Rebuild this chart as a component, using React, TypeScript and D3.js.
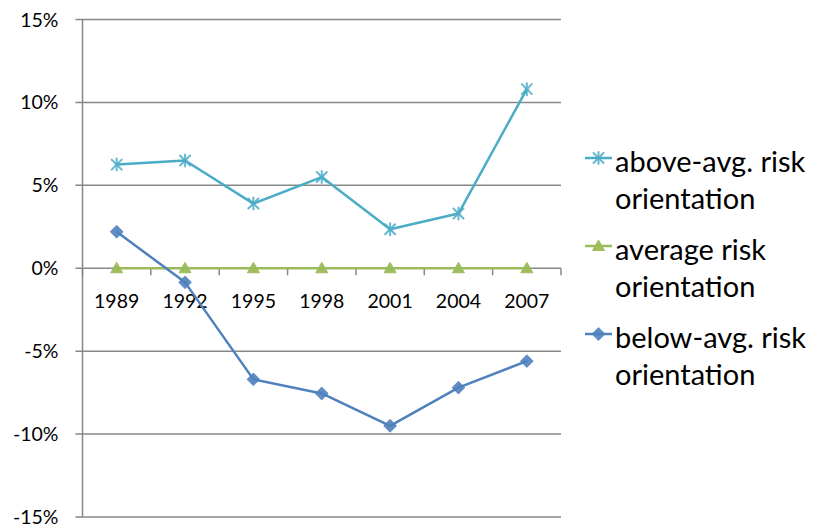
import React from "react";
import * as d3 from "d3";

// Survey years on the category axis
const years = ["1989", "1992", "1995", "1998", "2001", "2004", "2007"];

// Deviation from the average, in percent
const aboveAvg = [6.25, 6.5, 3.9, 5.5, 2.35, 3.3, 10.8];
const average = [0, 0, 0, 0, 0, 0, 0];
const belowAvg = [2.2, -0.85, -6.7, -7.55, -9.5, -7.2, -5.6];

const yTicks = [-15, -10, -5, 0, 5, 10, 15];

const seriesNames = [
  ["above-avg. risk", "orientation"],
  ["average risk", "orientation"],
  ["below-avg. risk", "orientation"],
];

const W = 818;
const H = 529;
const plot = { left: 82.5, right: 561, top: 19.5, bottom: 517 };
const FONT = "Lato, 'Open Sans', sans-serif";
const GRID = "#878787";

const colors = ["#4BACC6", "#9BBB59", "#4F81BD"];

type MarkerKind = "star" | "triangle" | "diamond";
const markerKinds: MarkerKind[] = ["star", "triangle", "diamond"];

function Marker({ kind, x, y, color }: { kind: MarkerKind; x: number; y: number; color: string }) {
  if (kind === "star") {
    const r = 5;
    return (
      <g stroke={color} strokeWidth={2} strokeLinecap="round" opacity={0.85}>
        <line x1={x - r} y1={y - r} x2={x + r} y2={y + r} />
        <line x1={x - r} y1={y + r} x2={x + r} y2={y - r} />
        <line x1={x} y1={y - r - 1} x2={x} y2={y + r + 1} />
        <circle cx={x} cy={y} r={2.5} fill={color} stroke="none" opacity={0.6} />
      </g>
    );
  }
  if (kind === "triangle") {
    const s = 6;
    return (
      <path
        d={`M${x},${y - s} L${x + s},${y + s * 0.75} L${x - s},${y + s * 0.75} Z`}
        fill={color}
        stroke={color}
        strokeWidth={1}
        strokeLinejoin="round"
        opacity={0.95}
      />
    );
  }
  const s = 6;
  return (
    <path
      d={`M${x},${y - s} L${x + s},${y} L${x},${y + s} L${x - s},${y} Z`}
      fill={color}
      stroke={color}
      strokeWidth={1.2}
      strokeLinejoin="round"
      opacity={0.9}
    />
  );
}

export default function App() {
  const x = d3
    .scaleBand<string>()
    .domain(years)
    .range([plot.left, plot.right]);
  const y = d3.scaleLinear().domain([-15, 15]).range([plot.bottom, plot.top]);

  const cx = (yr: string) => (x(yr) as number) + x.bandwidth() / 2;

  const series = [aboveAvg, average, belowAvg];
  const line = d3
    .line<number>()
    .x((_, i) => cx(years[i]))
    .y((v) => y(v));

  const legendX = 585;
  const legendTop = [158, 246, 334];

  return (
    <svg
      width={W}
      height={H}
      style={{ position: "absolute", left: 0, top: 0, background: "#fff" }}
      fontFamily={FONT}
    >
      {/* gridlines */}
      {yTicks.map((t) => (
        <line
          key={"g" + t}
          x1={plot.left - 7}
          x2={plot.right}
          y1={y(t)}
          y2={y(t)}
          stroke={GRID}
          strokeWidth={1.5}
        />
      ))}
      {/* value axis */}
      <line x1={plot.left} x2={plot.left} y1={plot.top} y2={plot.bottom} stroke={GRID} strokeWidth={1.5} />
      {yTicks.map((t) => (
        <text
          key={"yl" + t}
          x={plot.left - 24}
          y={y(t)}
          dy="0.36em"
          textAnchor="end"
          fontSize={19.5}
          fill="#000"
        >
          {t + "%"}
        </text>
      ))}
      {/* category axis ticks along zero line */}
      {years.map((yr) => (
        <line
          key={"ct" + yr}
          x1={(x(yr) as number) + x.bandwidth()}
          x2={(x(yr) as number) + x.bandwidth()}
          y1={y(0)}
          y2={y(0) + 7}
          stroke={GRID}
          strokeWidth={1.5}
        />
      ))}
      <line x1={plot.left} x2={plot.left} y1={y(0)} y2={y(0) + 7} stroke={GRID} strokeWidth={1.5} />
      {years.map((yr) => (
        <text key={"cl" + yr} x={cx(yr)} y={y(0) + 40} textAnchor="middle" fontSize={19.5} fill="#000">
          {yr}
        </text>
      ))}

      {/* series lines: draw average, then below, then above */}
      {[1, 2, 0].map((si) => (
        <g key={"s" + si}>
          <path d={line(series[si]) || ""} fill="none" stroke={colors[si]} strokeWidth={2.5} strokeLinejoin="round" />
          {series[si].map((v, i) => (
            <Marker key={i} kind={markerKinds[si]} x={cx(years[i])} y={y(v)} color={colors[si]} />
          ))}
        </g>
      ))}

      {/* legend */}
      {seriesNames.map((lines, si) => (
        <g key={"lg" + si}>
          <line x1={legendX} x2={legendX + 27} y1={legendTop[si]} y2={legendTop[si]} stroke={colors[si]} strokeWidth={2.5} />
          <Marker kind={markerKinds[si]} x={legendX + 13.5} y={legendTop[si]} color={colors[si]} />
          {lines.map((t, li) => (
            <text key={li} x={615} y={legendTop[si] + 14 + li * 36.5} fontSize={29} fill="#000">
              {t}
            </text>
          ))}
        </g>
      ))}
    </svg>
  );
}
